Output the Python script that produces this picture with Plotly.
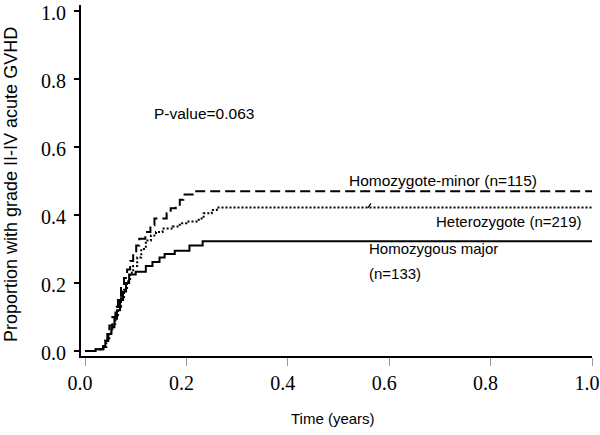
import plotly.graph_objects as go

# Time points (years) and cumulative incidence for each genotype group
major_t = [0.0, 0.021, 0.036, 0.040, 0.046, 0.052, 0.058, 0.063, 0.069, 0.075, 0.081, 0.087, 0.100,
           0.120, 0.133, 0.147, 0.157, 0.177, 0.206, 0.232, 1.0]
major_v = [0.0, 0.005, 0.012, 0.03, 0.05, 0.07, 0.095, 0.12, 0.15, 0.175, 0.20, 0.225, 0.233,
           0.25, 0.262, 0.275, 0.285, 0.295, 0.31, 0.323, 0.323]

minor_t = [0.0, 0.021, 0.036, 0.040, 0.044, 0.048, 0.054, 0.060, 0.065, 0.071, 0.077, 0.083, 0.089,
           0.095, 0.101, 0.107, 0.119, 0.129, 0.137, 0.161, 0.169, 0.179, 0.187, 0.194, 0.216, 1.0]
minor_v = [0.0, 0.005, 0.015, 0.03, 0.05, 0.075, 0.10, 0.13, 0.16, 0.19, 0.215, 0.24, 0.265,
           0.29, 0.31, 0.33, 0.35, 0.37, 0.39, 0.405, 0.42, 0.43, 0.445, 0.46, 0.47, 0.47]

het_t = [0.0, 0.021, 0.036, 0.042, 0.048, 0.054, 0.060, 0.065, 0.071, 0.077, 0.083, 0.089, 0.095,
         0.103, 0.111, 0.120, 0.130, 0.140, 0.153, 0.173, 0.187, 0.200, 0.220, 0.230, 0.234, 0.250,
         0.260, 1.0]
het_v = [0.0, 0.005, 0.012, 0.03, 0.055, 0.08, 0.105, 0.13, 0.155, 0.18, 0.205, 0.23, 0.25,
         0.275, 0.30, 0.325, 0.34, 0.35, 0.36, 0.366, 0.376, 0.381, 0.386, 0.395, 0.405, 0.415,
         0.422, 0.422]

# censoring tick on heterozygote curve
cens_t = [0.558, 0.564]
cens_v = [0.421, 0.434]

x_ticks = [0.0, 0.2, 0.4, 0.6, 0.8, 1.0]
y_ticks = [0.0, 0.2, 0.4, 0.6, 0.8, 1.0]

fig = go.Figure()
fig.add_trace(go.Scatter(x=major_t, y=major_v, mode="lines", line=dict(shape="hv", color="black", width=2),
                         name="Homozygous major"))
fig.add_trace(go.Scatter(x=het_t, y=het_v, mode="lines",
                         line=dict(shape="hv", color="black", width=2, dash="2px,2px"), name="Heterozygote"))
fig.add_trace(go.Scatter(x=minor_t, y=minor_v, mode="lines",
                         line=dict(shape="hv", color="black", width=2, dash="10px,5px"), name="Homozygote-minor"))
fig.add_trace(go.Scatter(x=cens_t, y=cens_v, mode="lines", line=dict(color="black", width=1.2),
                         showlegend=False))

L, R, T, B = 81, 8, 5, 79
W, H = 600, 435
pw, ph = W - L - R, H - T - B

def px(x):
    return (x - L) / pw

def py(y):
    return (H - B - y) / ph

serif = "Liberation Serif, Times New Roman, serif"
sans = "Liberation Sans, Arial, sans-serif"

def note(text, x, y, size, xanchor="left", angle=0):
    return dict(text=text, xref="paper", yref="paper", x=px(x), y=py(y), xanchor=xanchor,
                yanchor="middle", textangle=angle, align="left", showarrow=False,
                font=dict(family=sans, size=size, color="black"))

fig.update_layout(
    width=W, height=H, margin=dict(l=L, r=R, t=T, b=B, autoexpand=False),
    plot_bgcolor="white", paper_bgcolor="white", showlegend=False,
    xaxis=dict(range=[-0.0079, 1.0], tickvals=x_ticks, ticktext=[f"{v:.1f}" for v in x_ticks],
               showgrid=False, zeroline=False, showline=True, linecolor="black", linewidth=2,
               ticks="outside", ticklen=8, tickwidth=1, tickcolor="#999999",
               ticklabeloverflow="allow", ticklabelshift=-5,
               tickfont=dict(family=serif, size=20, color="black")),
    yaxis=dict(range=[-0.0147, 1.0176], tickvals=y_ticks, ticktext=[f"{v:.1f}" for v in y_ticks],
               showgrid=False, zeroline=False, showline=True, linecolor="black", linewidth=2,
               ticks="outside", ticklen=5, tickwidth=1.5, tickcolor="black",
               ticklabeloverflow="allow", ticklabelshift=2, ticklabelstandoff=4,
               tickfont=dict(family=serif, size=20, color="black")),
    annotations=[
        note("Proportion with grade II-IV acute GVHD", 11, 185, 18, xanchor="center", angle=-90),
        note("Time (years)", 333, 418, 15, xanchor="center"),
        note("P-value=0.063", 152, 113, 15.5),
        note("Homozygote-minor (n=115)", 347, 181, 15.5),
        note("Heterozygote (n=219)", 434, 221, 15),
        note("Homozygous major", 367, 248, 15),
        note("(n=133)", 367, 273, 15),
    ],
)

fig.write_html("out.html", config={"displayModeBar": False},
               post_script="document.body.style.margin='0';document.body.style.overflow='hidden';")
